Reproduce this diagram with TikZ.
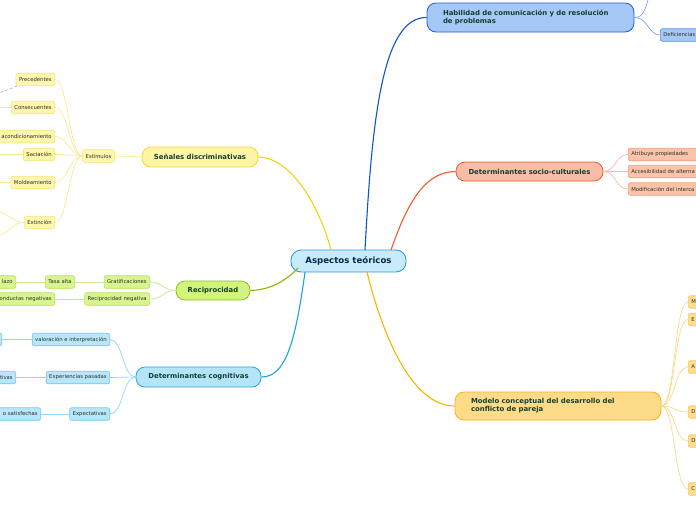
\documentclass[tikz,border=0pt]{standalone}
\usepackage{fontspec}
\setmainfont{DejaVu Sans}
\definecolor{rootfill}{HTML}{C8EBFB}
\definecolor{rootborder}{HTML}{3A9AD9}
\definecolor{roottext}{HTML}{0B2A4A}
\definecolor{branchtext}{HTML}{123F30}
\definecolor{leaftext}{HTML}{2E2E24}
\definecolor{habfill}{HTML}{A6C8F7}
\definecolor{habborder}{HTML}{1F5FD6}
\definecolor{habline}{HTML}{0B55C8}
\definecolor{hableafborder}{HTML}{5C8FE0}
\definecolor{hablink}{HTML}{7AA5EA}
\definecolor{socfill}{HTML}{F9BCA6}
\definecolor{socborder}{HTML}{EF5A2B}
\definecolor{socline}{HTML}{F05A28}
\definecolor{socleaffill}{HTML}{FBC3AA}
\definecolor{socleafborder}{HTML}{F59C7C}
\definecolor{soclink}{HTML}{F8B8A0}
\definecolor{modfill}{HTML}{FEDB88}
\definecolor{modborder}{HTML}{F9B40F}
\definecolor{modline}{HTML}{F8B400}
\definecolor{modleaffill}{HTML}{FEDD8C}
\definecolor{modleafborder}{HTML}{F8C860}
\definecolor{modlink}{HTML}{FBD98A}
\definecolor{senfill}{HTML}{FFF5A5}
\definecolor{senborder}{HTML}{EED83A}
\definecolor{senline}{HTML}{F2D40E}
\definecolor{senleaffill}{HTML}{FFF7B0}
\definecolor{senleafborder}{HTML}{F5E57A}
\definecolor{senlink}{HTML}{F8EC90}
\definecolor{recfill}{HTML}{D3F47C}
\definecolor{recborder}{HTML}{8EC21D}
\definecolor{recline}{HTML}{89B800}
\definecolor{recleaffill}{HTML}{D9F590}
\definecolor{recleafborder}{HTML}{B5E160}
\definecolor{reclink}{HTML}{C8EA90}
\definecolor{cogfill}{HTML}{B4E4FA}
\definecolor{cogborder}{HTML}{25A7E2}
\definecolor{cogline}{HTML}{1AA3E0}
\definecolor{cogleaffill}{HTML}{B8E6FB}
\definecolor{cogleafborder}{HTML}{6CC8F0}
\definecolor{coglink}{HTML}{90D6F5}
\definecolor{dashblue}{HTML}{8FA8E8}
\begin{document}
\begin{tikzpicture}[x=1pt,y=-1pt,
  rootbox/.style={draw=rootborder, fill=rootfill, line width=0.9pt, rounded corners=10pt,
    minimum width=115pt, minimum height=22pt, inner sep=0pt,
    font=\fontsize{8.6}{10}\selectfont\bfseries, text=roottext},
  branchbox/.style={rounded corners=9pt, line width=0.8pt, inner sep=0pt,
    font=\fontsize{6.9}{8.2}\selectfont\bfseries, text=branchtext},
  leafbox/.style={rounded corners=2pt, line width=0.6pt, inner xsep=3pt, inner ysep=0pt,
    minimum height=12.5pt, font=\fontsize{5.3}{6.3}\selectfont, text=leaftext},
  senleaf/.style={leafbox, draw=senleafborder, fill=senleaffill},
  recleaf/.style={leafbox, draw=recleafborder, fill=recleaffill},
  cogleaf/.style={leafbox, draw=cogleafborder, fill=cogleaffill},
  socleaf/.style={leafbox, draw=socleafborder, fill=socleaffill},
  modleaf/.style={leafbox, draw=modleafborder, fill=modleaffill},
  hableaf/.style={leafbox, draw=hableafborder, fill=habfill},
  mainlink/.style={line width=1.1pt},
  sublink/.style={line width=0.7pt},
  cutleft/.style={anchor=east, text width=#1, align=right},
  cutright/.style={anchor=west, text width=#1, align=left}
]
\useasboundingbox (0,0) rectangle (696,520);
\clip (0,0) rectangle (696,520);

% ---------- nodes
\node[rootbox] (root) at (348.5,261) {Aspectos teóricos};

\node[branchbox, draw=habborder, fill=habfill, minimum width=207pt, minimum height=29pt,
  text width=175pt, align=left] (hab) at (530.5,17.5)
  {Habilidad de comunicación y de resolución\\de problemas};
\node[hableaf, cutright=60pt] (def) at (660,35) {Deficiencias};

\node[branchbox, draw=socborder, fill=socfill, minimum width=147pt, minimum height=19pt] (soc) at (529.5,171.5) {Determinantes socio-culturales};
\node[socleaf, cutright=90pt] (soca) at (628,154.5) {Atribuye propiedades};
\node[socleaf, cutright=90pt] (socb) at (628,171.5) {Accesibilidad de alterna};
\node[socleaf, cutright=90pt] (socc) at (628,189) {Modificación del interca};

\node[branchbox, draw=modborder, fill=modfill, minimum width=206pt, minimum height=28pt,
  text width=174pt, align=left] (mod) at (558,406)
  {Modelo conceptual del desarrollo del\\conflicto de pareja};
\node[modleaf, cutright=30pt] (moda) at (688,302) {M};
\node[modleaf, cutright=30pt] (modb) at (688,319.5) {E};
\node[modleaf, cutright=30pt] (modc) at (688,367) {A};
\node[modleaf, cutright=30pt] (modd) at (688,412) {D};
\node[modleaf, cutright=30pt] (mode) at (688,441) {D};
\node[modleaf, cutright=30pt] (modf) at (688,489) {C};

\node[branchbox, draw=senborder, fill=senfill, minimum width=116pt, minimum height=20pt] (sen) at (200,157) {Señales discriminativas};
\node[senleaf] (est) at (98.5,156) {Estímulos};
\node[senleaf, anchor=east] (prec) at (55,79.5) {Precedentes};
\node[senleaf, anchor=east] (cons) at (55,107.5) {Consecuentes};
\node[senleaf, cutleft=62pt] (reac) at (55,136.5) {acondicionamiento};
\node[senleaf, anchor=east] (sac) at (55,154.5) {Saciación};
\node[senleaf, anchor=east] (mold) at (55,182.5) {Moldeamiento};
\node[senleaf, anchor=east] (ext) at (55,222.5) {Extinción};

\node[branchbox, draw=recborder, fill=recfill, minimum width=74pt, minimum height=19pt] (rec) at (213,290.5) {Reciprocidad};
\node[recleaf, anchor=east] (grat) at (150,282) {Gratificaciones};
\node[recleaf, anchor=east] (tasa) at (75,282) {Tasa alta};
\node[recleaf, cutleft=30pt] (plazo) at (16,282) {lazo};
\node[recleaf, anchor=east] (recneg) at (150,299) {Reciprocidad negativa};
\node[recleaf, cutleft=70pt] (condneg) at (55,299) {onductas negativas};

\node[branchbox, draw=cogborder, fill=cogfill, minimum width=125pt, minimum height=20pt] (cog) at (198.5,377) {Determinantes cognitivas};
\node[cogleaf, anchor=east] (val) at (110,339.5) {valoración e interpretación};
\node[cogleaf, cutleft=20pt] (valx) at (2,339.5) {};
\node[cogleaf, anchor=east] (exp) at (110,377.5) {Experiencias pasadas};
\node[cogleaf, cutleft=30pt] (expx) at (16,377.5) {tivas};
\node[cogleaf, anchor=east] (expe) at (110,414) {Expectativas};
\node[cogleaf, cutleft=60pt] (expex) at (41,414) {o satisfechas};

% ---------- coordinates for off-frame ends
\coordinate (habup) at (650,-6);
\coordinate (consoff) at (-5,107.5);
\coordinate (sacoff) at (-5,154.5);
\coordinate (moldoff) at (-5,182.5);
\coordinate (extoffa) at (-5,211);
\coordinate (extoffb) at (-5,236);
\coordinate (dashend) at (-3,94);
\coordinate (dashstart) at (17,86);

% ---------- main connectors
\draw[mainlink, senline] (sen.east) .. controls (295,158) and (322,215) .. (331,250);
\draw[mainlink, habline] (365,250) .. controls (372,120) and (382,17) .. (hab.west);
\draw[mainlink, socline] (391,250) .. controls (410,195) and (428,172) .. (soc.west);
\draw[mainlink, modline] (367,272) .. controls (385,345) and (415,406) .. (mod.west);
\draw[mainlink, cogline] (305,272) .. controls (295,345) and (285,377) .. (cog.east);
\draw[mainlink, recline] (298,268) .. controls (282,285) and (265,290) .. (rec.east);

% ---------- sub connectors
\draw[sublink, hablink] (hab.east) .. controls +(14,0) and +(-12,0) .. (def.west);
\draw[sublink, hablink] (hab.east) .. controls +(10,0) and (645,8) .. (habup);

\foreach \n in {soca,socb,socc}
  \draw[sublink, soclink] (soc.east) .. controls +(13,0) and +(-13,0) .. (\n.west);
\foreach \n in {moda,modb,modc,modd,mode,modf}
  \draw[sublink, modlink] (mod.east) .. controls +(14,0) and +(-14,0) .. (\n.west);

\draw[sublink, senlink] (sen.west) -- (est.east);
\foreach \n in {prec,cons,reac,sac,mold,ext}
  \draw[sublink, senlink] (est.west) .. controls +(-13,0) and +(13,0) .. (\n.east);
\draw[sublink, senlink] (cons.west) -- (consoff);
\draw[sublink, senlink] (sac.west) -- (sacoff);
\draw[sublink, senlink] (mold.west) -- (moldoff);
\draw[sublink, senlink] (ext.west) .. controls +(-12,0) and +(12,0) .. (extoffa);
\draw[sublink, senlink] (ext.west) .. controls +(-12,0) and +(12,0) .. (extoffb);
\draw[line width=0.6pt, dashblue, dash pattern=on 2.5pt off 2.5pt] (dashstart) -- (dashend);

\draw[sublink, reclink] (rec.west) .. controls +(-13,0) and +(13,0) .. (grat.east);
\draw[sublink, reclink] (rec.west) .. controls +(-13,0) and +(13,0) .. (recneg.east);
\draw[sublink, reclink] (grat.west) -- (tasa.east);
\draw[sublink, reclink] (tasa.west) -- (plazo.east);
\draw[sublink, reclink] (recneg.west) -- (condneg.east);

\foreach \n in {val,exp,expe}
  \draw[sublink, coglink] (cog.west) .. controls +(-13,0) and +(13,0) .. (\n.east);
\draw[sublink, coglink] (val.west) -- (valx.east);
\draw[sublink, coglink] (exp.west) -- (expx.east);
\draw[sublink, coglink] (expe.west) -- (expex.east);
\end{tikzpicture}
\end{document}
